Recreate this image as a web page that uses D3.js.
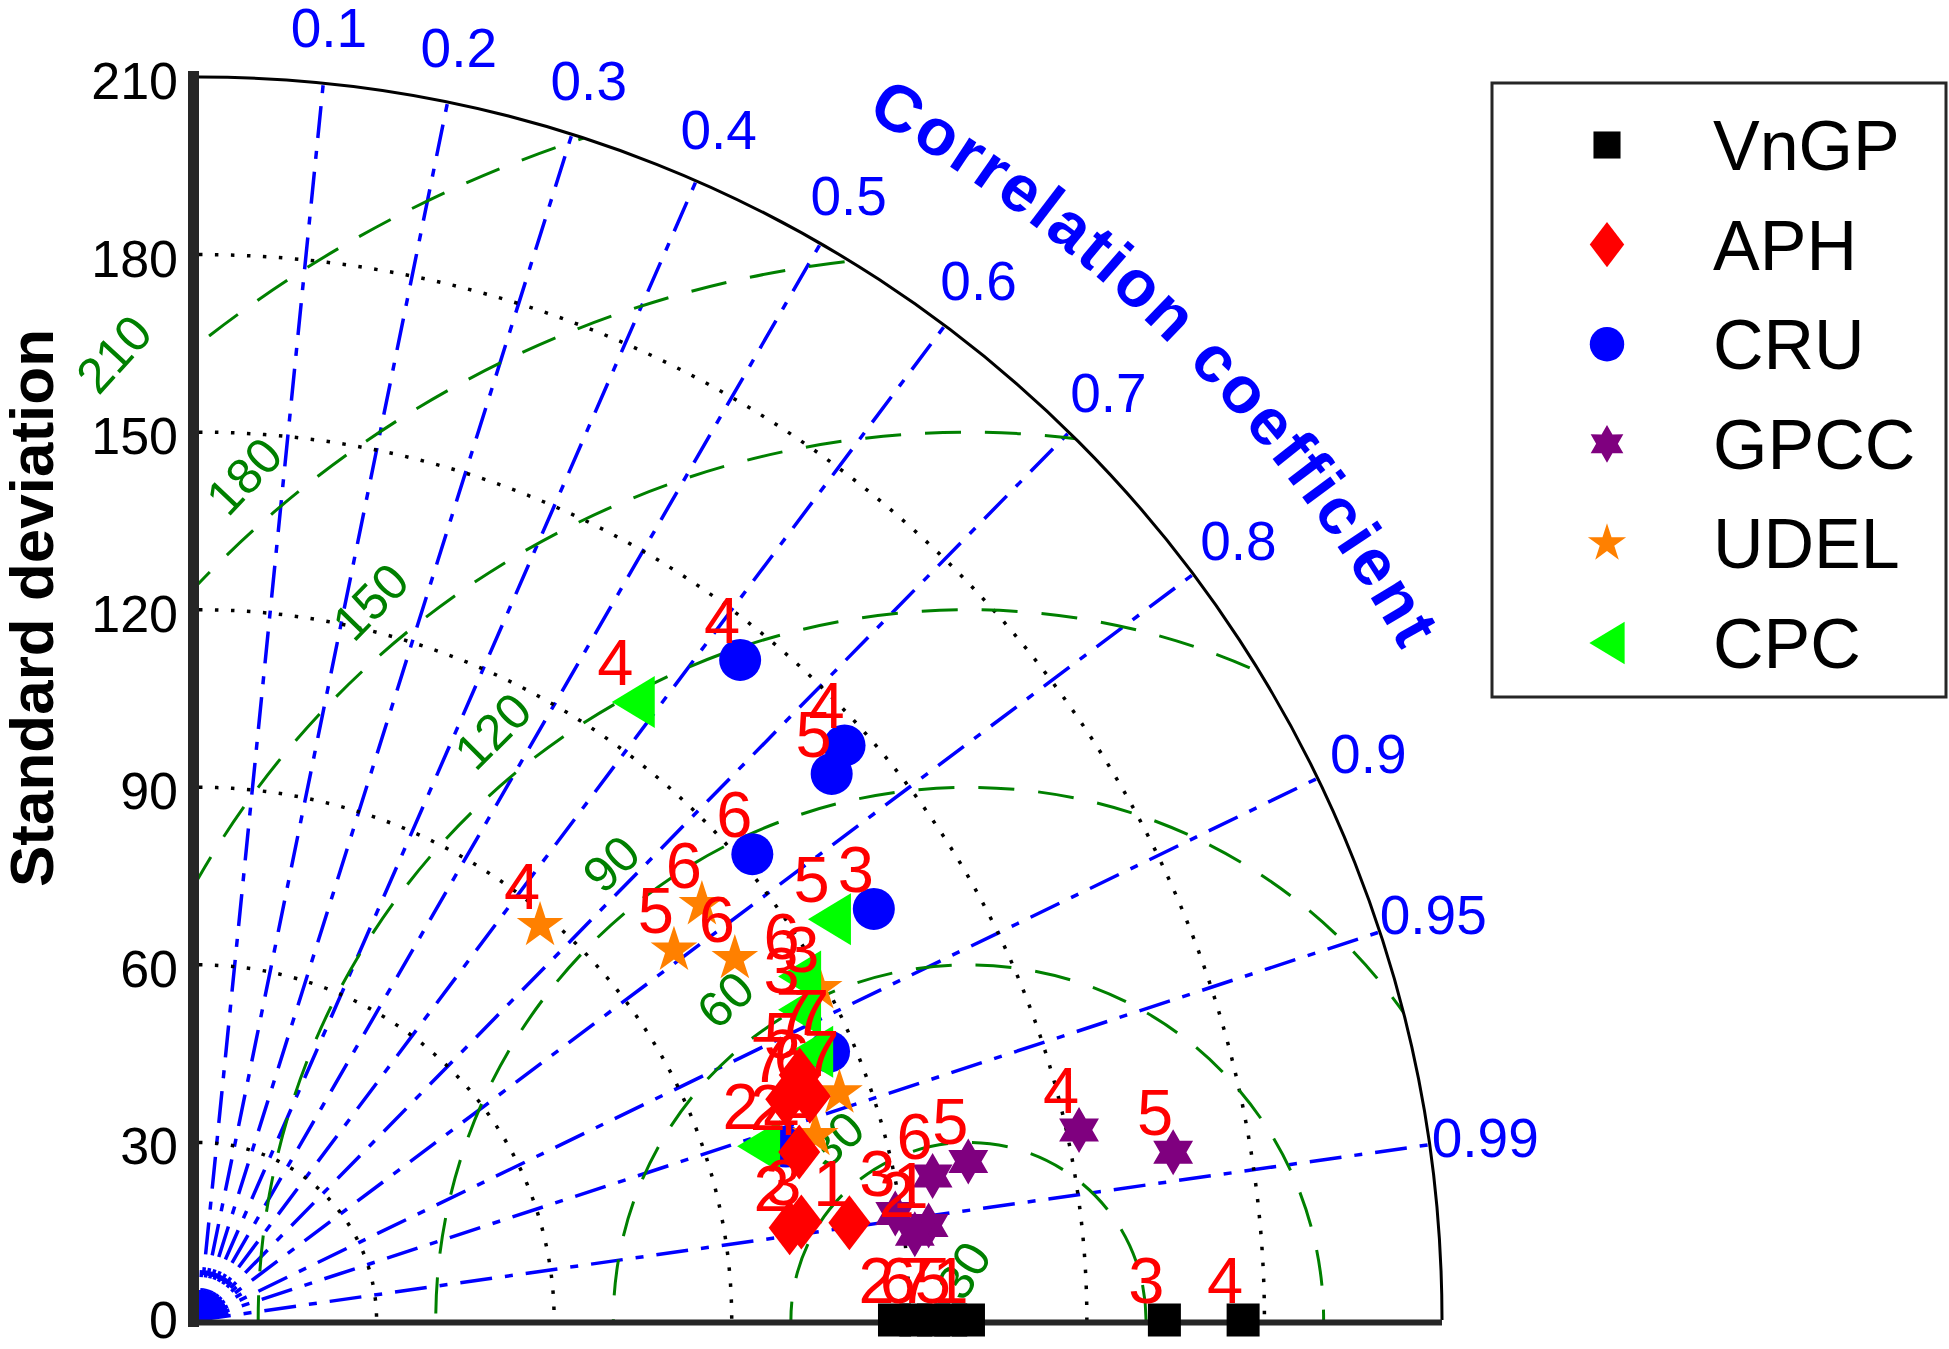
<!DOCTYPE html>
<html>
<head>
<meta charset="utf-8">
<title>Taylor diagram</title>
<script src="https://d3js.org/d3.v7.min.js"></script>
<style>
  body { margin: 0; background: #fff; }
  svg { display: block; font-family: Arial, "Liberation Sans", Helvetica, sans-serif; }
</style>
</head>
<body>
<svg id="chart" width="1949" height="1349"></svg>
<script>
// axis ticks
const stdTicks = [0, 30, 60, 90, 120, 150, 180, 210];
const corrTicks = [0.1, 0.2, 0.3, 0.4, 0.5, 0.6, 0.7, 0.8, 0.9, 0.95, 0.99];
const rmsLevels = [30, 60, 90, 120, 150, 180, 210];
const refStd = 130;

// data, one entry per region (label = region number)
const vngpStd   = [117.5, 121.1, 124.1, 127.0, 130.0, 163.1, 176.4];
const vngpCorr  = [1, 1, 1, 1, 1, 1, 1];
const vngpLabel = ["2", "6", "7", "5", "1", "3", "4"];

const aphStd   = [111.1, 101.0, 103.1, 105.3, 109.6, 109.9, 106.0];
const aphCorr  = [0.989, 0.988, 0.987, 0.963, 0.926, 0.939, 0.936];
const aphLabel = ["1", "2", "3", "4", "5", "6", "7"];

const cruStd   = [144.2, 146.0, 141.2, 122.2, 133.5, 115.7, 103.4];
const cruCorr  = [0.634, 0.747, 0.757, 0.765, 0.854, 0.920, 0.959];
const cruLabel = ["4", "4", "5", "6", "3", "7", "2"];

const gpccStd   = [152.1, 167.0, 132.7, 126.3, 119.0, 124.3, 121.8];
const gpccCorr  = [0.9775, 0.9855, 0.9794, 0.9813, 0.9885, 0.9917, 0.9929];
const gpccLabel = ["4", "5", "5", "6", "3", "1", "2"];

const udelStd   = [88.1, 101.7, 110.2, 109.2, 118.8, 114.8, 108.7];
const udelCorr  = [0.654, 0.789, 0.771, 0.829, 0.882, 0.9425, 0.958];
const udelLabel = ["4", "5", "6", "6", "3", "7", "2"];

const cpcStd   = [127.6, 126.2, 116.9, 114.2, 113.0, 99.0];
const cpcCorr  = [0.575, 0.844, 0.868, 0.8885, 0.916, 0.955];
const cpcLabel = ["4", "5", "6", "3", "7", "2"];

const seriesNames = ["VnGP", "APH", "CRU", "GPCC", "UDEL", "CPC"];

const datasets = [
  {name: "VnGP", std: vngpStd, corr: vngpCorr, label: vngpLabel, color: "#000000", shape: "square"},
  {name: "APH",  std: aphStd,  corr: aphCorr,  label: aphLabel,  color: "#ff0000", shape: "diamond"},
  {name: "CRU",  std: cruStd,  corr: cruCorr,  label: cruLabel,  color: "#0000ff", shape: "circle"},
  {name: "GPCC", std: gpccStd, corr: gpccCorr, label: gpccLabel, color: "#7f007f", shape: "hexagram"},
  {name: "UDEL", std: udelStd, corr: udelCorr, label: udelLabel, color: "#ff8000", shape: "pentagram"},
  {name: "CPC",  std: cpcStd,  corr: cpcCorr,  label: cpcLabel,  color: "#00ff00", shape: "triangle"}
];
const drawOrder = ["VnGP", "CRU", "GPCC", "UDEL", "CPC", "APH"];

const svg = d3.select("#chart");
const ox = 199, oy = 1320;
const R = 1243;
const r = d3.scaleLinear().domain([0, 210]).range([0, R]);

function polar(std, corr) {
  const a = Math.acos(Math.min(1, corr));
  return [ox + r(std) * Math.cos(a), oy - r(std) * Math.sin(a)];
}

svg.append("rect").attr("width", 1949).attr("height", 1349).attr("fill", "#fff");

svg.append("clipPath").attr("id", "quarter")
  .append("path")
  .attr("d", `M${ox},${oy} L${ox},${oy - R} A${R},${R} 0 0 1 ${ox + R},${oy} Z`);

const grid = svg.append("g").attr("clip-path", "url(#quarter)");

// fine rays near the origin
const fine = d3.range(1, 100).map(d => d / 100).filter(c => !corrTicks.includes(c));
grid.selectAll(".fine").data(fine).enter().append("line")
  .attr("x1", ox).attr("y1", oy)
  .attr("x2", d => ox + 30 * d).attr("y2", d => oy - 30 * Math.sin(Math.acos(d)))
  .attr("stroke", "#0000ff").attr("stroke-width", 3.5);
const minor = [0.05, 0.15, 0.25, 0.35, 0.45, 0.55, 0.65, 0.75, 0.85];
grid.selectAll(".minor").data(minor).enter().append("line")
  .attr("x1", ox).attr("y1", oy)
  .attr("x2", d => polar(9, d)[0]).attr("y2", d => polar(9, d)[1])
  .attr("stroke", "#0000ff").attr("stroke-width", 3.5)
  .attr("stroke-dasharray", "30 13 7 13");

// correlation rays
grid.selectAll(".ray").data(corrTicks).enter().append("line")
  .attr("x1", ox).attr("y1", oy)
  .attr("x2", d => polar(210, d)[0]).attr("y2", d => polar(210, d)[1])
  .attr("stroke", "#0000ff").attr("stroke-width", 3.5)
  .attr("stroke-dasharray", "32 13 8 13");

// std arcs
grid.selectAll(".sarc").data(stdTicks.filter(d => d > 0 && d < 210)).enter().append("path")
  .attr("d", d => `M${ox},${oy - r(d)} A${r(d)},${r(d)} 0 0 1 ${ox + r(d)},${oy}`)
  .attr("fill", "none").attr("stroke", "#000").attr("stroke-width", 3.5)
  .attr("stroke-dasharray", "3.5 12.5");

// centred RMS difference contours
const cx = ox + r(refStd);
grid.selectAll(".rms").data(rmsLevels).enter().append("circle")
  .attr("cx", cx).attr("cy", oy).attr("r", d => r(d))
  .attr("fill", "none").attr("stroke", "#008000").attr("stroke-width", 3)
  .attr("stroke-dasharray", "36 24");

function rmsLabel(text, dist, angDeg, rot) {
  const a = angDeg * Math.PI / 180;
  svg.append("text")
    .attr("transform", `translate(${cx + r(dist) * Math.cos(a)},${oy - r(dist) * Math.sin(a)}) rotate(${rot})`)
    .attr("text-anchor", "middle").attr("dy", "0.36em")
    .attr("font-size", 50).attr("fill", "#008000").text(text);
}
rmsLevels.forEach(l => {
  const ang = 125.5 + l / 35;
  rmsLabel(l, l + 8, ang, -(ang - 90) - 6);
});
// second label of the 30 contour, mostly hidden under the reference labels
rmsLabel(30, 8.5, 96, -58);

// axes
svg.append("path")
  .attr("d", `M${ox},${oy - R} A${R},${R} 0 0 1 ${ox + R},${oy}`)
  .attr("fill", "none").attr("stroke", "#000").attr("stroke-width", 3);
svg.append("line").attr("x1", 188).attr("x2", ox + R).attr("y1", oy + 2.5).attr("y2", oy + 2.5)
  .attr("stroke", "#262626").attr("stroke-width", 6);
svg.append("line").attr("x1", 193.5).attr("x2", 193.5).attr("y1", oy - R - 6).attr("y2", oy + 7)
  .attr("stroke", "#262626").attr("stroke-width", 11);

svg.selectAll(".stick").data(stdTicks).enter().append("text")
  .attr("x", 178).attr("y", d => oy - r(d) + (d === 0 ? 18 : 22))
  .attr("text-anchor", "end").attr("font-size", 52).attr("fill", "#000")
  .text(d => d);

svg.append("text")
  .attr("transform", `translate(53,608) rotate(-90)`)
  .attr("text-anchor", "middle").attr("font-size", 62).attr("font-weight", "bold")
  .text("Standard deviation");

svg.selectAll(".ctick").data(corrTicks).enter().append("text")
  .attr("x", d => polar(219.5, d)[0]).attr("y", d => polar(219.5, d)[1])
  .attr("dy", "0.36em").attr("text-anchor", "middle")
  .attr("font-size", 55).attr("fill", "#0000ff")
  .text(d => d);

// curved title
const tr = r(232.5);
const a1 = 75 * Math.PI / 180, a2 = 15 * Math.PI / 180;
svg.append("path").attr("id", "titleArc").attr("fill", "none")
  .attr("d", `M${ox + tr * Math.cos(a1)},${oy - tr * Math.sin(a1)} A${tr},${tr} 0 0 1 ${ox + tr * Math.cos(a2)},${oy - tr * Math.sin(a2)}`);
svg.append("text")
  .attr("font-size", 66).attr("font-weight", "bold").attr("fill", "#0000ff")
  .attr("letter-spacing", 3)
  .append("textPath").attr("href", "#titleArc")
  .attr("startOffset", "50%").attr("text-anchor", "middle")
  .text("Correlation coefficient");

// markers
function starPath(n, ro, ri) {
  const pts = [];
  for (let i = 0; i < 2 * n; i++) {
    const a = -Math.PI / 2 + i * Math.PI / n;
    const rr = i % 2 ? ri : ro;
    pts.push([rr * Math.cos(a), rr * Math.sin(a)]);
  }
  return "M" + pts.map(p => p.join(",")).join("L") + "Z";
}
function shapePath(shape, k) {
  switch (shape) {
    case "square": { const s = 16.5 * k; return `M${-s},${-s}H${s}V${s}H${-s}Z`; }
    case "diamond": { const w = 21 * k, h = 27.5 * k; return `M0,${-h}L${w},0L0,${h}L${-w},0Z`; }
    case "circle": { const c = 21 * k; return `M${-c},0A${c},${c} 0 1 0 ${c},0A${c},${c} 0 1 0 ${-c},0Z`; }
    case "hexagram": return starPath(6, 23 * k, 23 * k * 0.577);
    case "pentagram": return starPath(5, 24.5 * k, 24.5 * k * 0.382);
    case "triangle": { const w = 21.5 * k, h = 26 * k; return `M${-w},0L${w},${-h}L${w},${h}Z`; }
  }
}

const byName = Object.fromEntries(datasets.map(d => [d.name, d]));
const layer = svg.append("g");
drawOrder.forEach(name => {
  const ds = byName[name];
  const pts = ds.std.map((s, i) => ({p: polar(s, ds.corr[i]), label: ds.label[i]}));
  layer.append("g").selectAll("path").data(pts).enter().append("path")
    .attr("transform", d => `translate(${d.p[0]},${d.p[1]})`)
    .attr("d", shapePath(ds.shape, 1))
    .attr("fill", ds.color);
  ds.points = pts;
});
const labels = svg.append("g");
drawOrder.forEach(name => {
  labels.append("g").selectAll("text").data(byName[name].points).enter().append("text")
    .attr("x", d => d.p[0] - 18).attr("y", d => d.p[1] - 17)
    .attr("text-anchor", "middle").attr("font-size", 65).attr("fill", "#ff0000")
    .text(d => d.label);
});

// legend
const legend = svg.append("g");
legend.append("rect").attr("x", 1492).attr("y", 83).attr("width", 454).attr("height", 614)
  .attr("fill", "#fff").attr("stroke", "#262626").attr("stroke-width", 3);
const item = legend.selectAll(".item").data(seriesNames).enter().append("g")
  .attr("transform", (d, i) => `translate(0,${145 + i * 99.6})`);
item.append("path")
  .attr("transform", "translate(1607,0)")
  .attr("d", d => shapePath(byName[d].shape, 0.82))
  .attr("fill", d => byName[d].color);
item.append("text").attr("x", 1713).attr("y", 25)
  .attr("font-size", 70).attr("fill", "#000").text(d => d);
</script>
</body>
</html>
